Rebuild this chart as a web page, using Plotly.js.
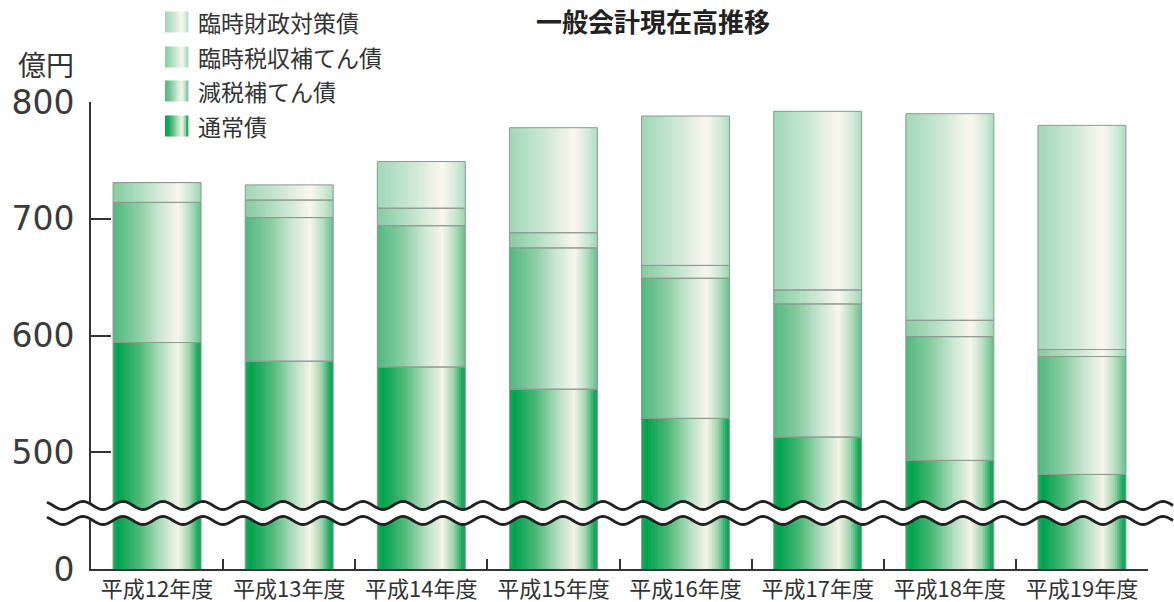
<!DOCTYPE html>
<html><head><meta charset="utf-8">
<script src="https://cdn.plot.ly/plotly-3.0.1.min.js"></script>
<style>html,body{margin:0;padding:0;background:#fff}#chart{width:1174px;height:602px}</style>
</head><body><div id="chart"></div><script>
// ---- data (億円) ----
const categories = ['平成12年度','平成13年度','平成14年度','平成15年度','平成16年度','平成17年度','平成18年度','平成19年度'];
const tsujo       = [594, 578, 573, 554, 529, 513, 493, 481]; // 通常債
const genzei      = [120, 123, 121, 121, 120, 114, 106, 101]; // 減税補てん債
const rinjiZeishu = [17, 15, 15, 13, 11, 12, 14, 6];          // 臨時税収補てん債
const rinjiZaisei = [0, 13, 40, 90, 128, 153, 177, 192];      // 臨時財政対策債
const seriesNames = ['通常債','減税補てん債','臨時税収補てん債','臨時財政対策債'];
const seriesVals  = [tsujo, genzei, rinjiZeishu, rinjiZaisei];
const yTickVals = [400, 500, 600, 700, 800];
const yTickText = ['0', '500', '600', '700', '800'];
const titleText = '一般会計現在高推移';
const unitText = '億円';

// ---- style ----
const gradStops = [
  [[0,'#16ad60'],[0.06,'#00a24e'],[0.3,'#4cb877'],[0.55,'#b3dec0'],[0.74,'#f5f3e6'],[0.87,'#9bd3ab'],[0.97,'#10a759'],[1,'#10a759']],
  [[0,'#4fb87d'],[0.3,'#8ccea4'],[0.52,'#c8e6d0'],[0.74,'#f8f5ec'],[0.88,'#b5ddc3'],[1,'#64c08b']],
  [[0,'#84cca0'],[0.35,'#b6e0c5'],[0.74,'#f9f6ee'],[0.9,'#c5e5d0'],[1,'#9bd4b1']],
  [[0,'#a0d7b6'],[0.4,'#cde7d4'],[0.74,'#fbf7ef'],[0.9,'#d1eada'],[1,'#acdbbf']]
];
function hex2rgb(h){return [parseInt(h.substr(1,2),16),parseInt(h.substr(3,2),16),parseInt(h.substr(5,2),16)];}
function gradColor(stops,t){
  for(let i=1;i<stops.length;i++){
    if(t<=stops[i][0]){
      const a=stops[i-1],b=stops[i];
      const f=(b[0]-a[0])>0?(t-a[0])/(b[0]-a[0]):0;
      const ca=hex2rgb(a[1]),cb=hex2rgb(b[1]);
      return 'rgb('+ca.map((v,j)=>Math.round(v+(cb[j]-v)*f)).join(',')+')';
    }
  }
  return stops[stops.length-1][1];
}

const W = 0.666;       // bar width (category units)
const N = 40;          // gradient strips per bar
const traces = [];
const bases = [];
let cum = categories.map(()=>0);
seriesVals.forEach((vals,s)=>{ bases.push(cum.slice()); cum = cum.map((c,i)=>c+vals[i]); });

seriesVals.forEach((vals,s)=>{
  for(let k=0;k<N;k++){
    const t=(k+0.5)/N;
    const last = k===N-1;
    traces.push({
      type:'bar', x:categories, y:vals, base:bases[s],
      offset:-W/2 + k*W/N, width: last ? W/N : W/N*1.3,
      marker:{color:gradColor(gradStops[s],t), line:{width:0}},
      showlegend:false, hoverinfo:'skip'
    });
  }
});
seriesVals.forEach((vals,s)=>{
  traces.push({
    type:'bar', x:categories, y:vals, base:bases[s], name:seriesNames[s],
    offset:-W/2, width:W,
    marker:{color:'rgba(0,0,0,0)', line:{color:'#8d9a92', width:1}},
    showlegend:false, hovertemplate:'%{x}<br>'+seriesNames[s]+': %{y}億円<extra></extra>'
  });
});

// ---- pixel helpers for decorations ----
const L=91, R=1148, T=102, B=569;
const xp = px => (px-L)/(R-L);
const yp = py => (B-py)/(B-T);

function wave(cy){
  const pts=[];
  for(let px=47; px<=1174; px+=2){
    const py = cy - 4*Math.cos(2*Math.PI*(px-763)/40);
    pts.push([xp(px), yp(py)]);
  }
  return pts;
}
const up = wave(505.5), lo = wave(520.5);
const toPath = pts => pts.map((p,i)=>(i?'L':'M')+p[0].toFixed(5)+','+p[1].toFixed(5)).join(' ');
const bandPath = toPath(up) + ' ' + lo.slice().reverse().map(p=>'L'+p[0].toFixed(5)+','+p[1].toFixed(5)).join(' ') + ' Z';

const shapes = [
  {type:'path', xref:'paper', yref:'paper', path:bandPath, fillcolor:'#ffffff', line:{width:0}, layer:'above'},
  {type:'path', xref:'paper', yref:'paper', path:toPath(up), fillcolor:'rgba(0,0,0,0)', line:{color:'#222', width:2.8}, layer:'above'},
  {type:'path', xref:'paper', yref:'paper', path:toPath(lo), fillcolor:'rgba(0,0,0,0)', line:{color:'#222', width:2.8}, layer:'above'}
];

// ---- manual legend (gradient swatches) ----
const legendOrder = [3,2,1,0];
const rowY = [22, 57, 91, 126];
const annotations = [];
legendOrder.forEach((s,r)=>{
  const cy=rowY[r], x0=165, x1=188, M=12;
  for(let k=0;k<M;k++){
    const a=x0+(x1-x0)*k/M, b=x0+(x1-x0)*(k+1)/M+0.4;
    shapes.push({type:'rect', xref:'paper', yref:'paper', x0:xp(a), x1:xp(b), y0:yp(cy+10.5), y1:yp(cy-10.5),
      fillcolor:gradColor(gradStops[s],(k+0.5)/M), line:{width:0}, layer:'above'});
  }
  annotations.push({xref:'paper', yref:'paper', x:xp(196), y:yp(cy), xanchor:'left', yanchor:'middle',
    text:seriesNames[s], showarrow:false, font:{family:'Noto Sans CJK JP', size:23, color:'#333'}});
});
annotations.push({xref:'paper', yref:'paper', x:xp(46), y:yp(64), xanchor:'center', yanchor:'middle',
  text:unitText, showarrow:false, font:{family:'Noto Sans CJK JP', size:28, color:'#333'}});

const layout = {
  width:1174, height:602,
  margin:{l:L, r:1174-R, t:T, b:602-B, pad:0},
  paper_bgcolor:'#fff', plot_bgcolor:'#fff',
  barmode:'overlay', showlegend:false,
  title:{text:titleText, x:653/1174, xanchor:'center', y:1-23/602, yanchor:'middle',
    font:{family:'Noto Sans CJK JP', size:26, weight:'bold', color:'#222'}},
  xaxis:{type:'category', range:[-0.5,7.5], showline:true, linecolor:'#333', linewidth:2,
    ticks:'inside', tickson:'boundaries', ticklen:10, tickwidth:2, tickcolor:'#333',
    showgrid:false, zeroline:false, fixedrange:true,
    tickfont:{family:'Noto Sans CJK JP', size:22, color:'#333'}},
  yaxis:{range:[400,800], tickvals:yTickVals, ticktext:yTickText, showline:true, linecolor:'#333', linewidth:2,
    ticks:'inside', ticklen:20, tickwidth:2, tickcolor:'#333', ticklabelstandoff:8,
    showgrid:false, zeroline:false, fixedrange:true,
    tickfont:{family:'DejaVu Sans', size:33, color:'#3a3a3a'}},
  shapes:shapes, annotations:annotations
};
Plotly.newPlot('chart', traces, layout, {displayModeBar:false, staticPlot:false});
</script></body></html>
